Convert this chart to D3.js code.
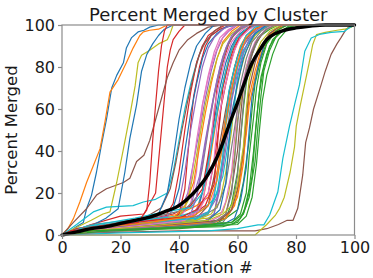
<!DOCTYPE html>
<html>
<head>
<meta charset="utf-8">
<script src="https://cdn.jsdelivr.net/npm/d3@7"></script>
<style>
  body { margin: 0; background: #fff; }
  text { font-family: "DejaVu Sans", sans-serif; fill: #1a1a1a; }
</style>
</head>
<body>
<script>
// tick labels
const xTicks = [0, 20, 40, 60, 80, 100]
const yTicks = [0, 20, 40, 60, 80, 100]

// one array per cluster: [iteration, percent merged]
const clusters = [
    [[0,0],[3,2],[5,4],[7.3,6],[8.4,12.5],[10.1,19],[11.8,30],[13.5,43],[15.2,55],[17,70],[18.7,76],[21,82],[22,89],[23.8,94],[26,96.7],[28,97.5],[30,99],[33,100],[100,100]],
    [[0,0],[2,3],[3.9,7.8],[6.1,15.7],[8.4,25],[10.7,33],[13,41],[14.7,54],[16.4,68],[19.2,74],[22,82],[24.3,89],[26.6,95],[27.8,96.7],[30,97.5],[33,98],[36,100],[100,100]],
    [[0,0],[5,1],[20,2],[35,3],[45,4],[52,5],[56,8],[58,15],[60,30],[61,45],[62,60],[63,72],[64,82],[66,90],[68,95],[71,98],[74,100],[100,100]],
    [[0,0],[4,2],[10,5],[20,9],[28,10],[32,20],[33,35],[34,50],[35,65],[36,80],[37,88],[38,93],[40,97],[42,100],[100,100]],
    [[0,0],[8,2],[20,4],[35,6],[40,10],[43,20],[45,35],[47,50],[49,65],[51,78],[53,88],[55,94],[57,97],[60,100],[100,100]],
    [[0,0],[3.9,6],[8.4,12.5],[11.8,19],[15.2,22],[21,25],[23.2,27],[25.5,35],[28,38],[30,45],[32,55],[34,65],[36,75],[38,82],[40,88],[43,93],[46,96],[50,99],[55,100],[100,100]],
    [[0,0],[6,3],[20,5],[38,7],[42,12],[44,25],[46,45],[48,62],[50,76],[52,87],[54,94],[57,98],[60,100],[100,100]],
    [[0,0],[10,2],[30,3],[48,5],[52,10],[54,25],[56,45],[58,65],[60,80],[62,90],[65,96],[68,99],[72,100],[100,100]],
    [[0,0],[4,3],[10,7],[14,10],[16.4,11],[18.7,25],[21,41],[23.2,57],[25,71],[26,82],[27.2,85.6],[30,88],[33,91],[36,93],[37,96],[38,100],[100,100]],
    [[0,0],[5,5],[10.7,11],[15.2,13.3],[24.3,14],[27.8,15.7],[32,17],[36,20],[38,30],[40,45],[42,60],[44,72],[46,82],[48,90],[51,95],[54,98],[58,100],[100,100]],
    [[0,0],[8,3],[15,8],[19.2,12.5],[21.5,30],[23.2,46],[25.5,62],[27.2,78],[29,86],[31,91],[33,95],[35,98],[38,100],[100,100]],
    [[0,0],[10,3],[30,5],[44,8],[48,15],[50,30],[52,48],[54,65],[56,78],[58,88],[60,94],[62,97],[65,100],[100,100]],
    [[0,0],[6,2],[25,4],[50,6],[56,8],[60,12],[62,25],[64,45],[65,60],[66,72],[68,84],[70,92],[73,97],[76,100],[100,100]],
    [[0,0],[5,3],[25,6],[35,8],[38,15],[40,30],[42,50],[44,68],[46,82],[48,90],[50,95],[53,98],[56,100],[100,100]],
    [[0,0],[10,3],[30,6],[40,9],[44,14],[47,28],[49,45],[51,60],[53,74],[55,85],[57,92],[60,97],[63,100],[100,100]],
    [[0,0],[10,1],[40,2],[62,2],[66,2],[70,3],[74,5],[77,7],[79,7],[80.6,12.7],[82.3,28.6],[83.3,44],[84.6,51],[86,60],[88.6,71.6],[90,78],[92,86],[94,91],[95.4,94],[97,97.7],[98,99],[100,100]],
    [[0,0],[8,2],[30,4],[45,6],[50,10],[52,20],[54,38],[56,55],[57,68],[59,80],[61,89],[63,95],[66,99],[70,100],[100,100]],
    [[0,0],[12,4],[30,6],[40,8],[46,12],[49,25],[51,42],[53,58],[55,72],[57,84],[59,92],[62,97],[66,100],[100,100]],
    [[0,0],[40,0],[66,0],[70,5],[73,9.5],[74.4,12.7],[76,18],[78,30],[79.5,42],[80.1,52],[81.5,62],[83,72],[84.5,82],[85.7,90.6],[87,95.4],[90,96.5],[94,97.5],[96.6,98],[99,99],[100,100]],
    [[0,0],[20,1],[50,2],[60,3],[67,4.8],[69,4.8],[71,9.5],[73.8,20.6],[75.5,36.5],[77.8,52],[79.5,62],[81.2,71.6],[83,87.5],[85.2,93.8],[88,95.5],[92,96.5],[96.6,97],[98,98.5],[100,100]],
    [[0,0],[6,2],[25,4],[42,6],[46,10],[48,20],[50,36],[52,54],[54,70],[56,82],[58,90],[60,95],[64,99],[68,100],[100,100]],
    [[0,0],[10,4],[30,7],[40,10],[46,14],[50,18],[53,30],[55,48],[57,66],[59,80],[61,90],[63,95],[66,98],[70,100],[100,100]],
    [[0,0],[8,2],[30,3],[55,4],[60,6],[62,10],[64,22],[65.5,40],[66.5,55],[67.5,68],[69,80],[71,90],[74,96],[78,100],[100,100]],
    [[0,0],[4,1],[20,3],[36,5],[40,10],[42,22],[43,38],[44,52],[45,66],[47,80],[49,90],[51,95],[54,98],[58,100],[100,100]],
    [[0,0],[10,2],[30,4],[48,6],[52,10],[54,22],[55,38],[56,55],[58,70],[60,82],[62,90],[64,95],[67,99],[70,100],[100,100]],
    [[0,0],[15,3],[35,5],[46,8],[50,14],[52,28],[54,44],[56,60],[58,74],[60,85],[62,92],[65,97],[68,100],[100,100]],
    [[0,0],[5,2],[20,5],[40,8],[44,15],[46,30],[47,48],[48,62],[50,75],[52,85],[54,92],[56,96],[59,100],[100,100]],
    [[0,0],[20,2],[45,4],[55,6],[58,12],[60,28],[61,46],[62,62],[63,75],[65,86],[67,93],[70,98],[73,100],[100,100]],
    [[0,0],[10,3],[35,6],[50,8],[55,11],[57,20],[59,38],[60,55],[62,70],[63,80],[65,88],[67,94],[70,98],[74,100],[100,100]],
    [[0,0],[10,3],[30,5],[45,7],[50,10],[52,18],[54,35],[56,52],[58,68],[60,80],[62,88],[65,94],[68,98],[72,100],[100,100]],
    [[0,0],[15,4],[30,8],[38,13],[40,22],[42,40],[44,58],[46,72],[48,84],[50,91],[53,96],[56,99],[60,100],[100,100]],
    [[0,0],[5,2],[25,3],[50,5],[56,8],[59,14],[61,28],[63,48],[64,62],[66,75],[68,86],[70,93],[73,97],[77,100],[100,100]],
    [[0,0],[10,2],[40,4],[58,6],[62,10],[64,18],[66,35],[67,52],[68,66],[69,78],[71,88],[73,94],[76,98],[80,100],[100,100]],
    [[0,0],[10,4],[28,7],[38,10],[44,14],[48,22],[50,38],[52,56],[53,70],[55,82],[57,91],[59,96],[62,100],[100,100]],
    [[0,0],[6,3],[25,6],[36,9],[40,15],[42,30],[44,50],[46,66],[48,80],[50,89],[52,94],[55,98],[58,100],[100,100]],
    [[0,0],[10,2],[35,4],[52,6],[56,10],[58,22],[60,40],[61,56],[62,70],[64,82],[66,91],[69,97],[72,100],[100,100]],
    [[0,0],[12,3],[32,6],[44,9],[48,16],[50,30],[51,46],[52,60],[54,74],[56,85],[58,92],[61,97],[64,100],[100,100]],
    [[0,0],[10,5],[30,8],[42,12],[46,18],[48,32],[50,50],[52,66],[54,78],[56,88],[58,94],[61,98],[64,100],[100,100]],
    [[0,0],[8,2],[28,5],[46,7],[51,10],[54,16],[56,30],[58,50],[59,64],[61,78],[63,88],[66,95],[69,99],[72,100],[100,100]],
    [[0,0],[5,3],[20,6],[40,9],[48,12],[52,17],[55,28],[57,45],[59,62],[60,75],[62,86],[64,93],[67,97],[71,100],[100,100]],
    [[0,0],[8,2],[30,4],[55,5],[59,8],[61,16],[63,32],[64,50],[65,66],[67,80],[69,90],[71,96],[74,99],[78,100],[100,100]],
    [[0,0],[12,3],[30,5],[38,8],[42,14],[45,25],[47,42],[49,58],[51,72],[53,84],[55,92],[58,97],[61,100],[100,100]],
    [[0,0],[15,2],[45,4],[60,5],[63,9],[65,18],[66.5,34],[67.5,50],[68.5,64],[70,76],[72,86],[74,93],[77,98],[82,100],[100,100]],
    [[0,0],[8,2],[25,5],[40,8],[46,12],[50,20],[52,35],[54,55],[55,70],[57,82],[59,90],[61,95],[64,99],[67,100],[100,100]],
    [[0,0],[10,3],[30,5],[44,8],[50,11],[53,18],[55,32],[57,50],[58,64],[60,77],[62,87],[64,93],[67,98],[70,100],[100,100]],
    [[0,0],[12,4],[28,8],[34,13],[37,22],[39,35],[41,50],[43,64],[45,76],[47,86],[49,92],[52,97],[55,100],[100,100]],
    [[0,0],[10,2],[30,4],[50,6],[54,9],[56,16],[58,30],[59,46],[60,60],[62,74],[64,85],[66,92],[69,97],[72,100],[100,100]],
    [[0,0],[5,3],[30,6],[48,9],[53,13],[56,24],[58,42],[60,60],[61,72],[63,84],[65,92],[68,97],[71,100],[100,100]],
    [[0,0],[10,3],[30,6],[40,9],[43,16],[45,30],[47,46],[49,62],[51,74],[53,84],[55,91],[58,96],[62,100],[100,100]],
    [[0,0],[8,4],[25,8],[35,11],[44,13],[48,20],[50,34],[52,50],[54,66],[56,78],[58,88],[60,94],[63,98],[66,100],[100,100]],
    [[0,0],[12,3],[35,5],[50,7],[54,12],[56,25],[57,42],[58,58],[60,72],[62,84],[64,91],[66,96],[70,100],[100,100]],
    [[0,0],[6,2],[30,4],[52,6],[57,10],[60,18],[62,34],[63,52],[64,66],[66,78],[68,88],[70,94],[73,98],[76,100],[100,100]],
    [[0,0],[10,2],[40,3],[58,5],[61,8],[63,14],[65,28],[66,46],[67,62],[68,75],[70,86],[72,93],[75,97],[79,100],[100,100]],
    [[0,0],[5,3],[25,6],[44,9],[49,14],[52,24],[53,40],[54,58],[56,72],[58,84],[60,92],[62,96],[65,100],[100,100]],
    [[0,0],[10,2],[30,4],[40,6],[44,10],[46,18],[48,34],[50,52],[52,67],[54,80],[56,89],[58,95],[61,99],[64,100],[100,100]],
    [[0,0],[10,3],[38,5],[54,7],[58,12],[60,22],[62,40],[63,56],[64,70],[66,82],[68,90],[71,96],[75,100],[100,100]],
    [[0,0],[8,2],[30,5],[42,7],[47,12],[50,20],[52,36],[53,52],[55,66],[57,78],[59,88],[61,94],[64,98],[67,100],[100,100]],
    [[0,0],[10,2],[40,4],[52,6],[56,10],[58,20],[59,36],[60,52],[61,66],[63,78],[65,88],[67,94],[70,98],[73,100],[100,100]],
    [[0,0],[10,2],[35,5],[50,7],[55,10],[58,14],[60,24],[62,42],[63,60],[64,74],[66,85],[68,92],[71,97],[75,100],[100,100]],
    [[0,0],[6,3],[30,6],[46,8],[50,11],[53,20],[55,38],[56,55],[57,68],[59,80],[61,89],[63,95],[66,99],[69,100],[100,100]],
    [[0,0],[10,3],[25,6],[33,10],[36,20],[38,36],[40,55],[42,70],[44,82],[46,90],[49,96],[52,100],[100,100]],
    [[0,0],[8,3],[30,6],[45,9],[50,14],[53,26],[55,44],[57,62],[59,76],[61,87],[63,94],[66,98],[69,100],[100,100]],
    [[0,0],[10,2],[45,4],[58,6],[61,10],[63,20],[64,38],[65.5,56],[66.5,70],[68,82],[70,91],[73,97],[77,100],[100,100]],
    [[0,0],[3,2],[15,4],[26,6],[29,12],[30,25],[31,45],[32,62],[33,78],[34,90],[35,97],[36,100],[100,100]]
]

// average over clusters (thick black line)
const meanLine = [[0,0],[5,1.5],[10,3],[15,4],[20,5.5],[25,7],[30,8.5],[35,11],[40,14],[45,20],[50,29],[53,37],[55,44],[57,52],[60,63],[62,71],[65,82],[68,89],[70,93],[73,96],[76,97.5],[80,98.6],[85,99.5],[90,100],[100,100]]

const width = 373
const height = 278

const svg = d3.select("body")
    .append("svg")
    .attr("width", width)
    .attr("height", height)

const x = d3.scaleLinear().domain([0, 100]).range([62, 354.5])
const y = d3.scaleLinear().domain([0, 100]).range([235, 25])
const colors = d3.schemeCategory10

const line = d3.line()
    .x(d => x(d[0]))
    .y(d => y(d[1]))

// cluster lines
svg.append("g")
    .selectAll("path")
    .data(clusters)
    .enter()
    .append("path")
    .attr("d", line)
    .attr("fill", "none")
    .attr("stroke", (d, i) => colors[i % 10])
    .attr("stroke-width", 1.2)
    .attr("stroke-linejoin", "round")

// mean line
svg.append("path")
    .datum(meanLine)
    .attr("d", line.curve(d3.curveMonotoneX))
    .attr("fill", "none")
    .attr("stroke", "black")
    .attr("stroke-width", 3.4)
    .attr("stroke-linecap", "round")

// axes
const xAxis = d3.axisBottom(x).tickValues(xTicks).tickSize(4).tickPadding(3)
const yAxis = d3.axisLeft(y).tickValues(yTicks).tickSize(4).tickPadding(3)

const gx = svg.append("g")
    .attr("transform", "translate(0,235)")
    .call(xAxis)
const gy = svg.append("g")
    .attr("transform", "translate(62,0)")
    .call(yAxis)

svg.selectAll(".domain").remove()
svg.selectAll(".tick line").attr("stroke", "#8c8c8c").attr("stroke-width", 1.2)
svg.selectAll(".tick text")
    .style("font-size", "16px")
    .style("font-family", "DejaVu Sans")
    .attr("fill", "#1a1a1a")

// frame
svg.append("rect")
    .attr("x", x(0))
    .attr("y", y(100))
    .attr("width", x(100) - x(0))
    .attr("height", y(0) - y(100))
    .attr("fill", "none")
    .attr("stroke", "#8c8c8c")
    .attr("stroke-width", 1.2)

// title and labels
svg.append("text")
    .attr("x", (x(0) + x(100)) / 2)
    .attr("y", 20.5)
    .style("text-anchor", "middle")
    .style("font-size", "18px")
    .text("Percent Merged by Cluster")

svg.append("text")
    .attr("x", (x(0) + x(100)) / 2)
    .attr("y", 273)
    .style("text-anchor", "middle")
    .style("font-size", "16.5px")
    .text("Iteration #")

svg.append("text")
    .attr("transform", "translate(17," + ((y(0) + y(100)) / 2) + ") rotate(-90)")
    .style("text-anchor", "middle")
    .style("font-size", "16.5px")
    .text("Percent Merged")
</script>
</body>
</html>
